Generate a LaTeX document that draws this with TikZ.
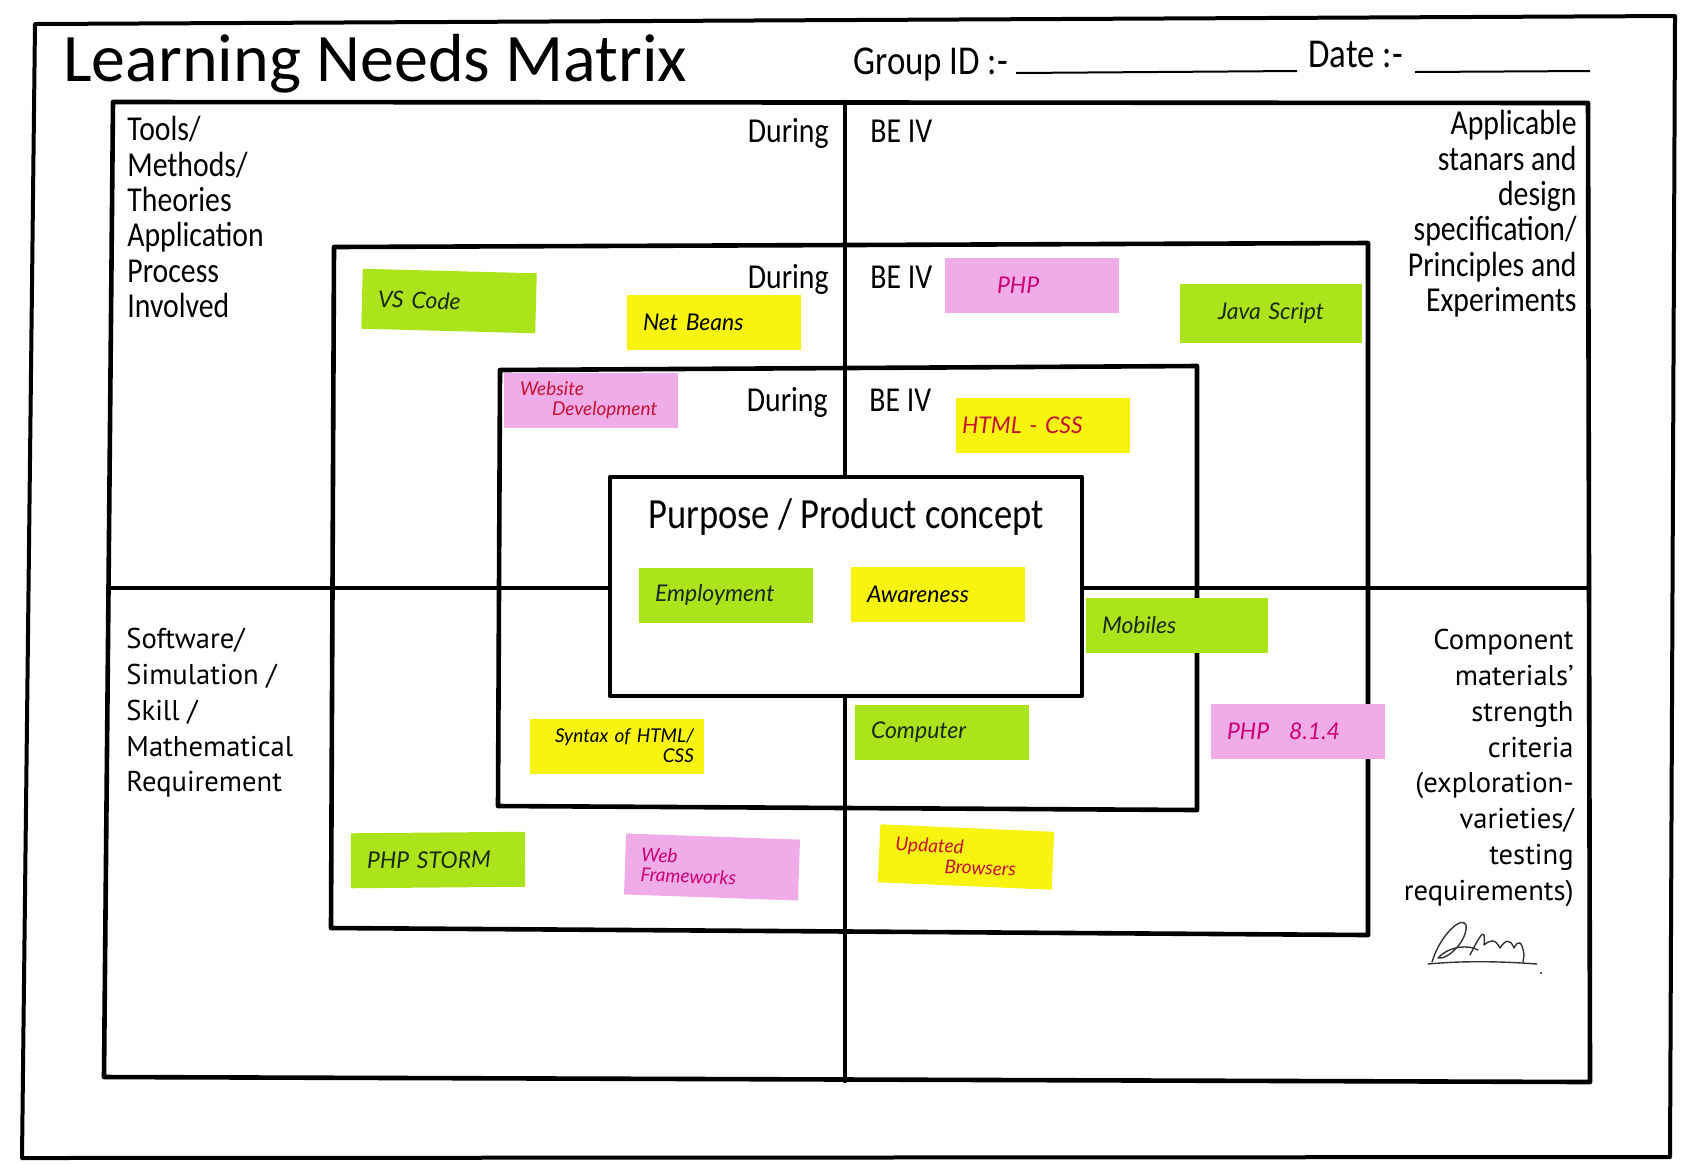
\documentclass[tikz,border=0pt]{standalone}
\usepackage{fontspec}
\setmainfont{Carlito}
\newfontfamily\condfont[FakeStretch=0.85]{Carlito}
\newfontfamily\sidefont{PT Sans}
\newfontfamily\handfont{Lato}
\usetikzlibrary{positioning}

\definecolor{padgreen}{RGB}{172,228,28}
\definecolor{padyellow}{RGB}{248,244,16}
\definecolor{padpink}{RGB}{240,172,232}
\definecolor{darkink}{RGB}{22,44,24}
\definecolor{pinkink}{RGB}{204,0,118}
\definecolor{redink}{RGB}{196,18,52}

\begin{document}
\begin{tikzpicture}[
    x=0.5pt, y=-0.5pt,
    frame/.style={line width=2.3pt, line join=round, line cap=round},
    heading/.style={inner sep=0, font=\condfont\fontsize{17.5}{17.7}\selectfont},
    sidetext/.style={inner sep=0, font=\sidefont\fontsize{14.3}{17.9}\selectfont},
    note/.style={minimum height=27.5pt, inner xsep=8pt, inner ysep=2pt, text width=71pt, align=left, font=\handfont\itshape\fontsize{11.5}{12.5}\selectfont},
    wide/.style={text width=75pt},
    twoline/.style={font=\handfont\itshape\fontsize{9.5}{10}\selectfont},
    greennote/.style={note, fill=padgreen, text=darkink},
    yellownote/.style={note, fill=padyellow, text=black},
    pinknote/.style={note, fill=padpink, text=pinkink},
    sign/.style={line width=0.7pt, line cap=round, line join=round, black!80}
]
    \useasboundingbox (0,0) rectangle (1700,1164);

    % sheet and matrix
    \draw[frame, line width=2pt] (35,24) -- (1675,16) -- (1670,1157) -- (22,1158) -- cycle;
    \draw[frame] (113,102) -- (1588,103) -- (1590,1082) -- (104,1077) -- cycle;
    \draw[frame] (845,102) -- (845,1081);
    \draw[frame] (109,588) -- (1589,588);
    \draw[frame] (334,247) -- (1368,243) -- (1368,935) -- (331,928) -- cycle;
    \draw[frame] (500,370) -- (1197,366) -- (1197,810) -- (498,806) -- cycle;
    \draw[frame, fill=white] (610,477) rectangle (1082,696);

    % header
    \node[inner sep=0, anchor=base west, font=\fontsize{34}{40}\selectfont] (title) at (63,81) {Learning Needs Matrix};
    \node[inner sep=0, anchor=base west, font=\condfont\fontsize{20.5}{24}\selectfont] (groupid) at (853,74) {Group ID :-};
    \node[inner sep=0, anchor=base west, font=\condfont\fontsize{20.5}{24}\selectfont] (date) at (1308,67) {Date :-};
    \draw[line width=1pt] (1016,73) -- (1297,71);
    \draw[line width=1pt] (1415,72) -- (1590,71);

    % quadrant texts
    \node[heading, anchor=north west, align=left] (tools) at (127,116) {Tools/\\Methods/\\Theories\\Application\\Process\\Involved};
    \node[heading, anchor=north east, align=right] (standards) at (1577,110) {Applicable\\stanars and\\design\\specification/\\Principles and\\Experiments};
    \node[sidetext, anchor=north west, align=left] (software) at (126,628) {Software/\\Simulation /\\Skill /\\Mathematical\\Requirement};
    \node[sidetext, anchor=north east, align=right] (component) at (1574,629) {Component\\materials’\\strength\\criteria\\(exploration-\\varieties/\\testing\\requirements)};

    \node[heading, anchor=base east] (during1) at (829,142) {During};
    \node[heading, base right=20.5pt of during1] (beiv1) {BE IV};
    \node[heading, anchor=base east] (during2) at (829,288) {During};
    \node[heading, base right=20.5pt of during2] (beiv2) {BE IV};
    \node[heading, anchor=base east] (during3) at (828,411) {During};
    \node[heading, base right=20.5pt of during3] (beiv3) {BE IV};

    \node[inner sep=0, anchor=base, font=\condfont\fontsize{21.5}{24}\selectfont] (purpose) at (846,528) {Purpose / Product concept};

    % sticky notes
    \node[greennote, rotate=-1.5, minimum height=30pt] (vscode) at (449,301) {VS Code};
    \node[yellownote] (netbeans) at (714,322) {Net Beans};
    \node[pinknote] (php) at (1032,285) {\hspace*{18pt}PHP};
    \node[greennote, wide, align=center, minimum height=29.5pt] (javascript) at (1271,313) {Java Script};
    \node[pinknote, twoline, text=redink] (website) at (591,400) {Website\\\hspace*{16pt}Development};
    \node[yellownote, text=redink] (htmlcss) at (1043,425) {\hspace*{-5pt}HTML - CSS};
    \node[greennote] (employment) at (726,595) {Employment};
    \node[yellownote] (awareness) at (938,594) {Awareness};
    \node[greennote, wide] (mobiles) at (1177,625) {Mobiles};
    \node[yellownote, twoline, inner xsep=5pt, text width=77pt, align=right] (syntax) at (617,746) {Syntax of HTML/\\CSS};
    \node[greennote] (computer) at (942,732) {Computer};
    \node[pinknote] (phpversion) at (1298,731) {PHP\hspace{10pt}8.1.4};
    \node[greennote, rotate=0.5] (phpstorm) at (438,860) {PHP STORM};
    \node[pinknote, twoline, rotate=-2, minimum height=30.5pt] (webframe) at (712,867) {Web\\Frameworks};
    \node[yellownote, twoline, text=redink, rotate=-2.5, minimum height=29pt] (browsers) at (966,857) {Updated\\\hspace*{25pt}Browsers};

    % signature
    \draw[sign] (1432,962) .. controls (1440,935) and (1462,915) .. (1466,925) .. controls (1468,940) and (1448,960) .. (1438,958) .. controls (1450,945) and (1470,945) .. (1478,950);
    \draw[sign] (1470,955) .. controls (1480,935) and (1486,925) .. (1484,945) .. controls (1490,940) and (1495,938) .. (1500,948) .. controls (1505,940) and (1510,938) .. (1514,948) .. controls (1518,940) and (1522,940) .. (1524,955) -- (1523,962);
    \draw[sign] (1428,964) .. controls (1470,960) and (1510,962) .. (1537,964);
    \fill[black!80] (1541,973) circle (1.2);
\end{tikzpicture}
\end{document}
